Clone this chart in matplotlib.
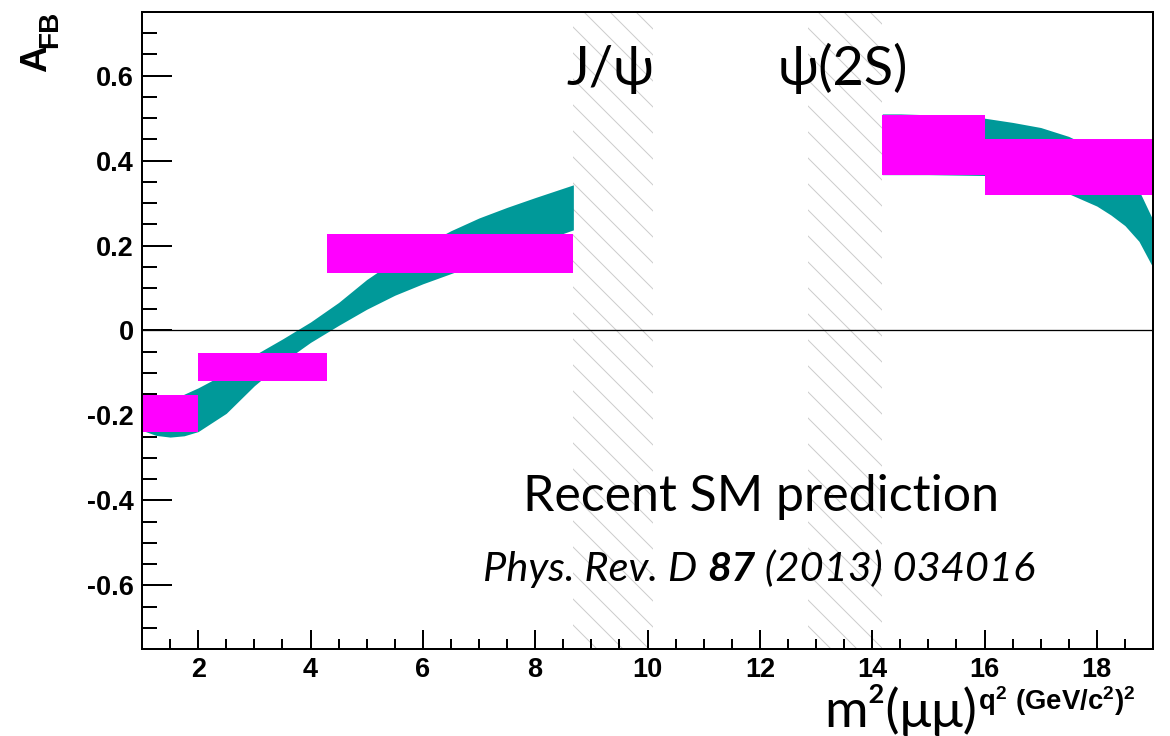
import numpy as np
import matplotlib
matplotlib.use("Agg")
import matplotlib.pyplot as plt
from matplotlib.ticker import MultipleLocator, FixedLocator, FixedFormatter

# --- data ---
# theory band (SM prediction), below the J/psi veto
band1_q2 = [1.0, 1.25, 1.5, 1.75, 2.0, 2.5, 3.0, 3.5, 4.0, 4.5, 5.0, 5.5, 6.0, 6.5, 7.0, 7.5, 8.0, 8.68]
band1_lo = [-0.235, -0.247, -0.251, -0.248, -0.238, -0.195, -0.13, -0.075, -0.028, 0.012, 0.05, 0.083,
            0.11, 0.134, 0.158, 0.18, 0.205, 0.237]
band1_hi = [-0.20, -0.185, -0.167, -0.15, -0.135, -0.10, -0.058, -0.02, 0.02, 0.066, 0.12, 0.165,
            0.20, 0.235, 0.265, 0.29, 0.313, 0.343]
# theory band above the psi(2S) veto
band2_q2 = [14.18, 14.5, 15.0, 15.5, 16.0, 16.5, 17.0, 17.5, 18.0, 18.25, 18.5, 18.75, 19.0]
band2_lo = [0.367, 0.367, 0.367, 0.366, 0.365, 0.355, 0.34, 0.322, 0.293, 0.272, 0.247, 0.21, 0.148]
band2_hi = [0.51, 0.51, 0.508, 0.505, 0.50, 0.49, 0.478, 0.457, 0.425, 0.40, 0.37, 0.33, 0.26]

# binned predictions
bin_lo = [1.0, 2.0, 4.3, 14.18, 16.0]
bin_hi = [2.0, 4.3, 8.68, 16.0, 19.0]
bin_ylo = [-0.24, -0.118, 0.136, 0.367, 0.32]
bin_yhi = [-0.153, -0.054, 0.228, 0.508, 0.452]

# charmonium vetoes
veto_lo = [8.68, 12.86]
veto_hi = [10.09, 14.18]
veto_names = ["J/\u03c8", "\u03c8(2S)"]

yticks = [-0.6, -0.4, -0.2, 0.0, 0.2, 0.4, 0.6]
ytick_labels = ["-0.6", "-0.4", "-0.2", "0", "0.2", "0.4", "0.6"]
xticks = [2, 4, 6, 8, 10, 12, 14, 16, 18]

# --- figure setup (dpi chosen so the hatch spacing matches) ---
DPI = 78
W, H = 1170, 736


def pt(px):
    return px * 72.0 / DPI


plt.rcParams['hatch.color'] = '#cccccc'
plt.rcParams['hatch.linewidth'] = pt(1.0)
plt.rcParams['mathtext.fontset'] = 'custom'
plt.rcParams['mathtext.rm'] = 'Liberation Sans'
plt.rcParams['mathtext.bf'] = 'Liberation Sans:bold'

fig = plt.figure(figsize=(W / DPI, H / DPI), dpi=DPI)
ax = fig.add_axes([142 / W, 1 - 649 / H, (1153 - 142) / W, (649 - 12) / H])
ax.set_xlim(1, 19)
ax.set_ylim(-0.75, 0.75)

teal = '#009999'
magenta = '#ff00ff'
gill = ['Lato', 'Open Sans', 'DejaVu Sans']
helv = ['Liberation Sans', 'DejaVu Sans']

for lo, hi in zip(veto_lo, veto_hi):
    ax.axvspan(lo, hi, facecolor='none', edgecolor='#cccccc', hatch='\\', linewidth=0, zorder=0)

ax.fill_between(band1_q2, band1_lo, band1_hi, color=teal, lw=0, zorder=1)
ax.fill_between(band2_q2, band2_lo, band2_hi, color=teal, lw=0, zorder=1)

ax.bar(bin_lo, np.array(bin_yhi) - np.array(bin_ylo), width=np.array(bin_hi) - np.array(bin_lo),
       bottom=bin_ylo, align='edge', color=magenta, lw=0, zorder=2)

ax.axhline(0, color='black', lw=pt(1.3), zorder=3)

# resonance labels
for lo, hi, name in zip(veto_lo, veto_hi, veto_names):
    ax.text((lo + hi) / 2 - 0.05, 0.579, name, ha='center', va='baseline',
            fontsize=pt(54), family=gill, zorder=4)

ax.text(12.02, -0.426, "Recent SM prediction", ha='center', va='baseline',
        fontsize=pt(50), family=gill, zorder=4)
t1 = ax.text(7.07, -0.591, "Phys. Rev. D ", ha='left', va='baseline', style='italic',
             fontsize=pt(41.5), family=gill, zorder=4)
t2 = ax.annotate("87", xy=(1, 0), xycoords=t1, ha='left', va='bottom', style='italic',
                 weight='bold', fontsize=pt(41.5), family=gill, zorder=4)
t3 = ax.annotate(" (2013) 034016", xy=(1, 0), xycoords=t2, ha='left', va='bottom',
                 style='italic', fontsize=pt(41.5), family=gill, zorder=4)

# axes styling
for side in ['left', 'bottom', 'top', 'right']:
    ax.spines[side].set_linewidth(pt(2))
ax.yaxis.set_major_locator(FixedLocator(yticks))
ax.yaxis.set_major_formatter(FixedFormatter(ytick_labels))
ax.yaxis.set_minor_locator(MultipleLocator(0.05))
ax.xaxis.set_major_locator(FixedLocator(xticks))
ax.xaxis.set_minor_locator(MultipleLocator(0.5))
ax.tick_params(axis='y', which='major', direction='in', length=pt(30), width=pt(2), pad=pt(8))
ax.tick_params(axis='y', which='minor', direction='in', length=pt(15), width=pt(2))
ax.tick_params(axis='x', which='major', direction='in', length=pt(19), width=pt(2), pad=pt(8))
ax.tick_params(axis='x', which='minor', direction='in', length=pt(10), width=pt(2))
for lab in ax.get_xticklabels() + ax.get_yticklabels():
    lab.set_family(helv)
    lab.set_weight('bold')
    lab.set_fontsize(pt(27))

# axis titles
fig.text(36.5 / W, 1 - 58.5 / H, "A", rotation=90, ha='center', va='center',
         family=helv, weight='bold', fontsize=pt(37))
fig.text(50 / W, 1 - 29 / H, "FB", rotation=90, ha='center', va='center',
         family=helv, weight='bold', fontsize=pt(28))
fig.text(901 / W, 1 - 727 / H, "m\u00b2(\u03bc\u03bc)", ha='center', va='baseline',
         family=gill, fontsize=pt(53))
fig.text(978 / W, 1 - 684 / H, r"$\mathbf{q^{2}\ (GeV/c^{2})^{2}}$", ha='left', va='top',
         fontsize=pt(27.5))

fig.savefig("out.png", dpi=DPI)
